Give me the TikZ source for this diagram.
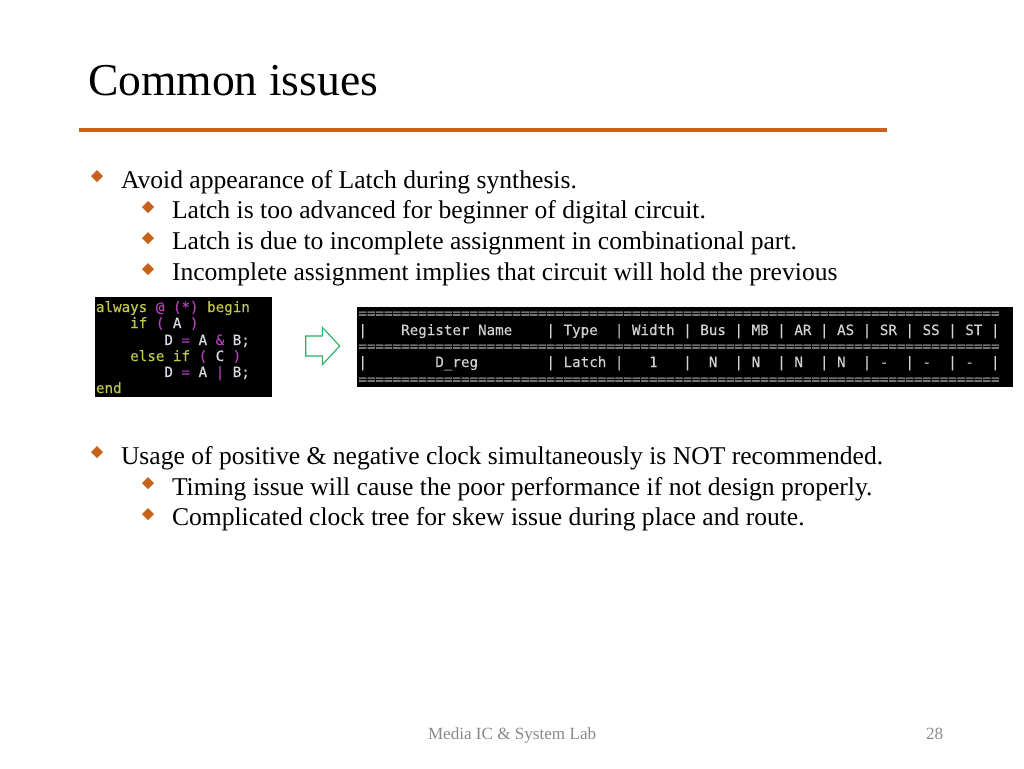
\documentclass[tikz,border=0pt]{standalone}
\usepackage{fontspec}
\setmainfont{Liberation Serif}
\newfontfamily\codefont[FakeBold=0.25]{DejaVu Sans Mono}
\definecolor{accent}{HTML}{C5631C}
\definecolor{footgray}{HTML}{898989}
\definecolor{arrowgreen}{HTML}{27B065}
\definecolor{cy}{HTML}{C2C948}
\definecolor{cp}{HTML}{B13FB5}
\definecolor{cw}{HTML}{D9D9E6}
\definecolor{tw}{HTML}{D2D2D2}
\definecolor{tg}{HTML}{A8A8A8}
\newcommand{\Y}[1]{\textcolor{cy}{#1}}
\newcommand{\Pu}[1]{\textcolor{cp}{#1}}
\newcommand{\Wh}[1]{\textcolor{cw}{#1}}
\tikzset{x=1pt,y=-1pt,
  txt/.style={anchor=base west,inner sep=0pt,outer sep=0pt,text=black},
  body/.style={txt,font=\fontsize{25.6}{25.6}\selectfont},
  ttl/.style={txt,font=\fontsize{45.6}{45.6}\selectfont},
  foot/.style={txt,text=footgray,font=\fontsize{17.1}{17.1}\selectfont},
  code/.style={txt,font=\codefont\fontsize{14.2}{14.2}\selectfont},
  tbl/.style={code,text=tw},
  eqline/.style={code,text=tg},
  bul/.style={fill=accent,draw=none},
  panel/.style={fill=black,draw=none}}
\newcommand{\diabul}[2]{\fill[bul] (#1-6,#2) -- (#1,#2-6) -- (#1+6,#2) -- (#1,#2+6) -- cycle;}
\newcommand{\eqs}{===========================================================================}
\begin{document}
\begin{tikzpicture}
\useasboundingbox (0,0) rectangle (1024,768);
\node[ttl] (title) at (88,95) {Common issues};
\draw[accent,line width=3.6pt] (79,130) -- (887,130);

\diabul{97}{176}
\node[body] (a1) at (121,188) {Avoid appearance of Latch during synthesis.};
\diabul{148}{207}
\node[body] (a2) at (172,218.5) {Latch is too advanced for beginner of digital circuit.};
\diabul{148}{238}
\node[body] (a3) at (172,249) {Latch is due to incomplete assignment in combinational part.};
\diabul{148}{269}
\node[body] (a4) at (172,280) {Incomplete assignment implies that circuit will hold the previous};

\fill[panel] (95,297) rectangle (272,397);
\node[code] (c1) at (96,312) {\Y{always} \Pu{@ (*)} \Y{begin}};
\node[code] (c2) at (96,328) {\Y{~~~~if} \Pu{(} \Wh{A} \Pu{)}};
\node[code] (c3) at (96,345) {\Wh{~~~~~~~~D} \Pu{=} \Wh{A} \Pu{\&} \Wh{B;}};
\node[code] (c4) at (96,361) {\Y{~~~~else if} \Pu{(} \Wh{C} \Pu{)}};
\node[code] (c5) at (96,377) {\Wh{~~~~~~~~D} \Pu{=} \Wh{A} \Pu{|} \Wh{B;}};
\node[code] (c6) at (96,393) {\Y{end}};

\draw[arrowgreen,line width=1.1pt,fill=white] (305.7,336) -- (322.3,336) -- (322.3,327.3) -- (339.7,346) -- (322.3,364.7) -- (322.3,356) -- (305.7,356) -- cycle;

\fill[panel] (357,307) rectangle (1013,387);
\node[eqline] (e1) at (358.4,318) {\eqs};
\node[tbl] (r1) at (358.4,335) {|~~~~Register Name~~~~| Type~~| Width | Bus | MB | AR | AS | SR | SS | ST |};
\node[eqline] (e2) at (358.4,351) {\eqs};
\node[tbl] (r2) at (358.4,367) {|~~~~~~~~D\_reg~~~~~~~~| Latch |~~~1~~~|~~N~~| N~~| N~~| N~~| -~~| -~~| -~~|};
\node[eqline] (e3) at (358.4,384) {\eqs};

\diabul{97}{452}
\node[body] (b1) at (121,464) {Usage of positive \& negative clock simultaneously is NOT recommended.};
\diabul{148}{483}
\node[body] (b2) at (172,495) {Timing issue will cause the poor performance if not design properly.};
\diabul{148}{514}
\node[body] (b3) at (172,525) {Complicated clock tree for skew issue during place and route.};

\node[foot] (f1) at (428,739) {Media IC \& System Lab};
\node[foot] (f2) at (926,739) {28};
\end{tikzpicture}
\end{document}
